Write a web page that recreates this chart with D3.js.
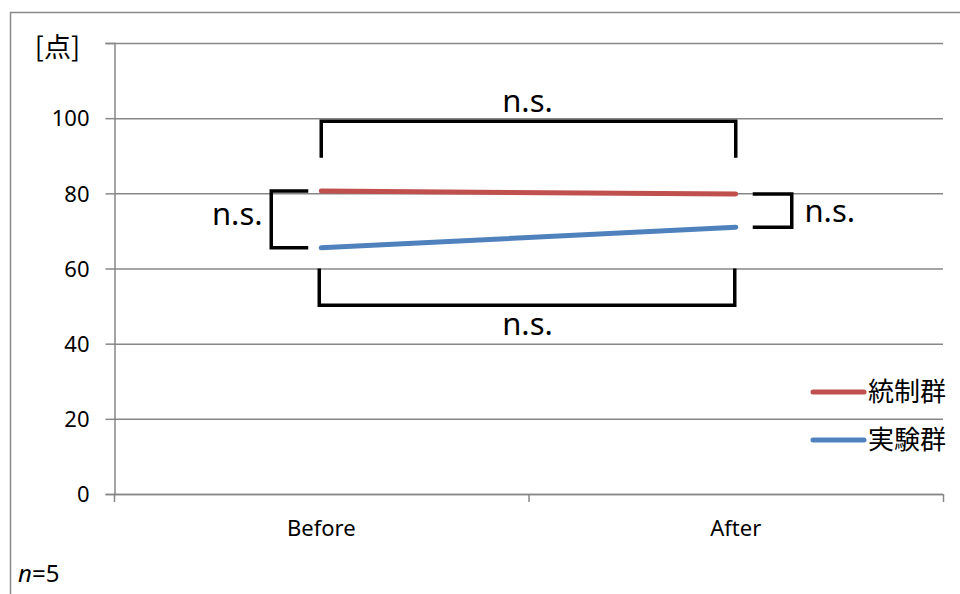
<!DOCTYPE html>
<html><head><meta charset="utf-8">
<script src="https://cdn.jsdelivr.net/npm/d3@7"></script>
<style>body{margin:0;background:#fff}svg{display:block}</style>
</head><body>
<script>
const categories = ["Before", "After"];
const controlValues = [80.6, 79.8];   // 統制群
const experimentValues = [65.5, 71.0]; // 実験群
const seriesNames = ["統制群", "実験群"];
const seriesColors = ["#C0504D", "#4F81BD"];
const yTicks = [0, 20, 40, 60, 80, 100, 120];
const yTickLabels = ["0", "20", "40", "60", "80", "100", ""];
const yUnit = "[点]";
const sigLabel = "n.s.";

const W = 960, H = 594;
const L = 114, R = 943, T = 43, B = 494;
const latin = "'Noto Sans','Open Sans',sans-serif";
const cjk = "'Noto Sans CJK JP','Noto Sans',sans-serif";

const svg = d3.select("body").append("svg").attr("width", W).attr("height", H);
svg.append("rect").attr("x", 10.5).attr("y", 12.5).attr("width", 1000).attr("height", 1000)
  .attr("fill", "none").attr("stroke", "#898989").attr("stroke-width", 1.5);

const x = d3.scaleBand().domain(categories).range([L, R]);
const y = d3.scaleLinear().domain([0, 120]).range([B, T]);
const cx = c => x(c) + x.bandwidth() / 2;

// gridlines
svg.append("g").selectAll("line").data(yTicks).join("line")
  .attr("x1", L).attr("x2", R).attr("y1", d => y(d) + 0.5).attr("y2", d => y(d) + 0.5)
  .attr("stroke", "#878787").attr("stroke-width", 1.5);

// y axis
const yAxis = svg.append("g").attr("transform", `translate(${L + 0.5},0)`)
  .call(d3.axisLeft(y).tickValues(yTicks).tickSize(9).tickPadding(16)
    .tickFormat((d, i) => yTickLabels[i]));
yAxis.select(".domain").attr("stroke", "#878787").attr("stroke-width", 1.5);
yAxis.selectAll(".tick line").attr("stroke", "#878787").attr("stroke-width", 1.5);
yAxis.selectAll(".tick text").attr("font-family", latin).attr("font-size", 22).attr("fill", "#000").attr("dy", "0.35em");

// x axis
const xg = svg.append("g");
xg.append("line").attr("x1", L).attr("x2", R).attr("y1", B + 0.5).attr("y2", B + 0.5)
  .attr("stroke", "#878787").attr("stroke-width", 1.5);
const bounds = [L, ...categories.map(c => x(c) + x.bandwidth())];
xg.selectAll(".xt").data(bounds).join("line").attr("class", "xt")
  .attr("x1", d => d + 0.5).attr("x2", d => d + 0.5).attr("y1", B).attr("y2", B + 8)
  .attr("stroke", "#878787").attr("stroke-width", 1.5);
xg.selectAll("text").data(categories).join("text")
  .attr("x", d => cx(d)).attr("y", 528).attr("dy", "0.35em").attr("text-anchor", "middle")
  .attr("font-family", latin).attr("font-size", 22).text(d => d);

// unit label
svg.append("text").attr("x", 57.5).attr("y", 48).attr("dy", "0.35em").attr("text-anchor", "middle")
  .attr("font-family", cjk).attr("font-size", 27).text(yUnit);

// n=5
const nt = svg.append("text").attr("x", 18).attr("y", 574).attr("dy", "0.35em")
  .attr("font-family", latin).attr("font-size", 24);
nt.append("tspan").attr("font-style", "italic").text("n");
nt.append("tspan").text("=5");

// series lines
const series = [controlValues, experimentValues];
const line = d3.line().x((d, i) => cx(categories[i])).y(d => y(d));
svg.append("g").selectAll("path").data(series).join("path")
  .attr("d", d => line(d)).attr("fill", "none")
  .attr("stroke", (d, i) => seriesColors[i]).attr("stroke-width", 5).attr("stroke-linecap", "round");

// significance brackets
const br = svg.append("g").attr("fill", "none").attr("stroke", "#000").attr("stroke-width", 3.5);
const xb = cx("Before"), xa = cx("After");
br.append("path").attr("d", `M${xb},${y(89.5)}V${y(99.2)}H${xa}V${y(89.5)}`);
br.append("path").attr("d", `M${xb - 2},${y(60)}V${y(50.2)}H${xa - 1}V${y(60)}`);
br.append("path").attr("d", `M${xb - 13},${y(controlValues[0])}H${xb - 50}V${y(experimentValues[0])}H${xb - 13}`);
br.append("path").attr("d", `M${xa + 17},${y(controlValues[1])}H${xa + 56}V${y(experimentValues[1])}H${xa + 17}`);

const ns = [
  {x: (xb + xa) / 2 - 1, y: y(101.6)},
  {x: (xb + xa) / 2 - 1, y: y(42.3)},
  {x: xb - 84, y: y(71.6)},
  {x: xa + 94, y: y(72.5)}
];
svg.append("g").selectAll("text").data(ns).join("text")
  .attr("x", d => d.x).attr("y", d => d.y).attr("text-anchor", "middle")
  .attr("font-family", latin).attr("font-size", 31).text(sigLabel);

// legend
const lg = svg.append("g").selectAll("g").data(seriesNames).join("g")
  .attr("transform", (d, i) => `translate(0,${392 + i * 48})`);
lg.append("line").attr("x1", 813).attr("x2", 864).attr("stroke", (d, i) => seriesColors[i])
  .attr("stroke-width", 5).attr("stroke-linecap", "round");
lg.append("text").attr("x", 868).attr("dy", "0.35em").attr("font-family", cjk).attr("font-size", 26).text(d => d);
</script>
</body></html>
